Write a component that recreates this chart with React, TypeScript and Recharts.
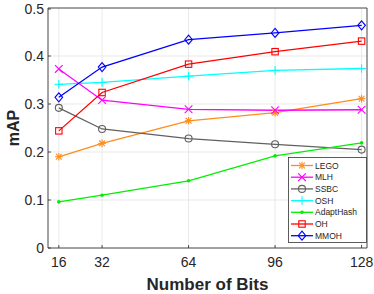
import React from 'react';
import { LineChart, Line, XAxis, YAxis, CartesianGrid, Legend, ReferenceLine } from 'recharts';

const bits = [16, 32, 64, 96, 128];
const lego = [0.19, 0.218, 0.265, 0.282, 0.311];
const mlh = [0.373, 0.308, 0.289, 0.287, 0.288];
const ssbc = [0.292, 0.248, 0.228, 0.216, 0.205];
const osh = [0.341, 0.345, 0.358, 0.37, 0.374];
const adapt = [0.096, 0.11, 0.14, 0.192, 0.219];
const oh = [0.244, 0.324, 0.383, 0.409, 0.431];
const mmoh = [0.314, 0.377, 0.434, 0.448, 0.464];
const xTicks = [16, 32, 64, 96, 128];
const yTicks = [0, 0.1, 0.2, 0.3, 0.4, 0.5];

const series = [
  { key: 'LEGO', values: lego, color: '#FF8C1A', marker: 'star' },
  { key: 'MLH', values: mlh, color: '#FF00FF', marker: 'x' },
  { key: 'SSBC', values: ssbc, color: '#606060', marker: 'circle' },
  { key: 'OSH', values: osh, color: '#00FFFF', marker: 'plus' },
  { key: 'AdaptHash', values: adapt, color: '#00EE00', marker: 'dot' },
  { key: 'OH', values: oh, color: '#FF0000', marker: 'square' },
  { key: 'MMOH', values: mmoh, color: '#0000FF', marker: 'diamond' },
];

const data = bits.map((b, i) => {
  const row: any = { bits: b };
  series.forEach((s) => (row[s.key] = s.values[i]));
  return row;
});

const AXIS = '#262626';

function Marker({ cx, cy, type, color }: any) {
  if (cx == null || cy == null) return null;
  const r = 3.8;
  const sw = 1.1;
  switch (type) {
    case 'star':
      return (
        <g stroke={color} strokeWidth={sw}>
          <line x1={cx - r} y1={cy} x2={cx + r} y2={cy} />
          <line x1={cx} y1={cy - r} x2={cx} y2={cy + r} />
          <line x1={cx - r * 0.75} y1={cy - r * 0.75} x2={cx + r * 0.75} y2={cy + r * 0.75} />
          <line x1={cx - r * 0.75} y1={cy + r * 0.75} x2={cx + r * 0.75} y2={cy - r * 0.75} />
        </g>
      );
    case 'x':
      return (
        <g stroke={color} strokeWidth={sw}>
          <line x1={cx - r} y1={cy - r} x2={cx + r} y2={cy + r} />
          <line x1={cx - r} y1={cy + r} x2={cx + r} y2={cy - r} />
        </g>
      );
    case 'plus':
      return (
        <g stroke={color} strokeWidth={sw}>
          <line x1={cx - r - 0.5} y1={cy} x2={cx + r + 0.5} y2={cy} />
          <line x1={cx} y1={cy - r - 0.5} x2={cx} y2={cy + r + 0.5} />
        </g>
      );
    case 'circle':
      return <circle cx={cx} cy={cy} r={3.5} fill="none" stroke={color} strokeWidth={sw} />;
    case 'dot':
      return <circle cx={cx} cy={cy} r={1.8} fill={color} stroke="none" />;
    case 'square':
      return <rect x={cx - 3.2} y={cy - 3.2} width={6.4} height={6.4} fill="none" stroke={color} strokeWidth={sw} />;
    case 'diamond':
      return (
        <polygon
          points={`${cx},${cy - 4.5} ${cx + 3.8},${cy} ${cx},${cy + 4.5} ${cx - 3.8},${cy}`}
          fill="none"
          stroke={color}
          strokeWidth={sw}
        />
      );
  }
  return null;
}

function XTick({ x, y, payload }: any) {
  const axisY = y - 9;
  return (
    <g>
      <line x1={x} y1={axisY} x2={x} y2={axisY - 3} stroke={AXIS} strokeWidth={0.8} />
      <text x={x} y={y + 10} textAnchor="middle" fontSize={14} fill={AXIS} fontFamily="Liberation Sans, Arial, sans-serif">
        {payload.value}
      </text>
    </g>
  );
}

function YTick({ x, y, payload }: any) {
  const axisX = x + 4;
  return (
    <g>
      <line x1={axisX} y1={y} x2={axisX + 3} y2={y} stroke={AXIS} strokeWidth={0.8} />
      <text x={x} y={y} dy={5} textAnchor="end" fontSize={14} fill={AXIS} fontFamily="Liberation Sans, Arial, sans-serif">
        {payload.value}
      </text>
    </g>
  );
}

function LegendBox() {
  const rowH = 11.7;
  return (
    <svg width={79} height={86} style={{ display: 'block' }}>
      <rect x={0.5} y={0.5} width={78} height={85} fill="#fff" stroke="#333" strokeWidth={0.8} />
      {series.map((s, i) => {
        const cy = 8.5 + i * rowH;
        return (
          <g key={s.key}>
            <line x1={3} y1={cy} x2={25} y2={cy} stroke={s.color} strokeWidth={1.3} />
            <Marker cx={14} cy={cy} type={s.marker} color={s.color} />
            <text x={27} y={cy} dy={3} fontSize={8.5} fill={AXIS} fontFamily="Liberation Sans, Arial, sans-serif">
              {s.key}
            </text>
          </g>
        );
      })}
    </svg>
  );
}

export default function App() {
  return (
    <div style={{ position: 'absolute', left: 0, top: 0, width: 374, height: 294, background: '#fff' }}>
      <LineChart width={374} height={294} data={data} margin={{ top: 8, right: 7, left: 0, bottom: 0 }}>
        <CartesianGrid stroke="#e3e3e3" strokeWidth={0.8} />
        <XAxis
          dataKey="bits"
          type="number"
          domain={[12, 130]}
          ticks={xTicks}
          height={46}
          tickSize={0}
          tickMargin={9}
          tick={<XTick />}
          stroke={AXIS}
          strokeWidth={0.8}
          allowDataOverflow
          label={(props: any) => {
            const vb = props.viewBox;
            return (
              <text x={vb.x + vb.width / 2} y={284} dominantBaseline="central" textAnchor="middle" fontSize={17} fontWeight="bold" fill={AXIS} fontFamily="Liberation Sans, Arial, sans-serif">
                Number of Bits
              </text>
            );
          }}
        />
        <YAxis
          type="number"
          domain={[0, 0.5]}
          ticks={yTicks}
          width={48}
          tickSize={0}
          tickMargin={4}
          tick={<YTick />}
          stroke={AXIS}
          strokeWidth={0.8}
          allowDataOverflow
          label={(props: any) => {
            const vb = props.viewBox;
            const cy = vb.y + vb.height / 2;
            return (
              <text x={13} y={cy} transform={`rotate(-90, 13, ${cy})`} dominantBaseline="central" textAnchor="middle" fontSize={16} fontWeight="bold" fill={AXIS} fontFamily="Liberation Sans, Arial, sans-serif">
                mAP
              </text>
            );
          }}
        />
        <ReferenceLine y={0.5} stroke={AXIS} strokeWidth={0.8} ifOverflow="extendDomain" />
        <ReferenceLine x={130} stroke={AXIS} strokeWidth={0.8} ifOverflow="extendDomain" />
        {series.map((s) => (
          <Line
            key={s.key}
            dataKey={s.key}
            stroke={s.color}
            strokeWidth={1.3}
            isAnimationActive={false}
            dot={(p: any) => <Marker key={`${s.key}-${p.index}`} cx={p.cx} cy={p.cy} type={s.marker} color={s.color} />}
            activeDot={false}
          />
        ))}
        <Legend
          layout="vertical"
          align="center"
          verticalAlign="middle"
          content={() => <LegendBox />}
          wrapperStyle={{ left: 288, top: 157, width: 79, height: 86 }}
        />
      </LineChart>
    </div>
  );
}
